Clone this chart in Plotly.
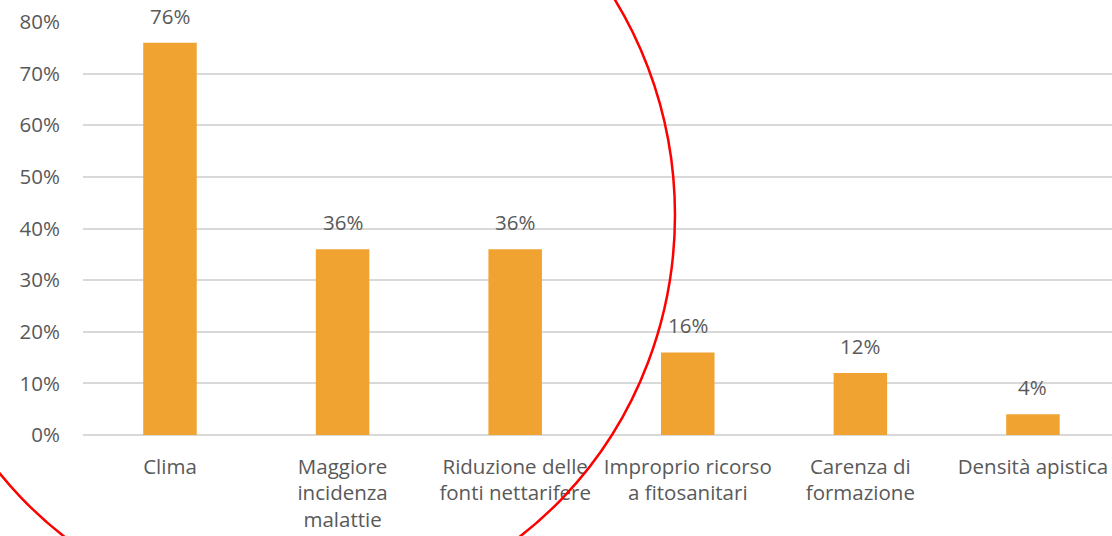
import plotly.graph_objects as go

categories = ["Clima", "Maggiore<br>incidenza<br>malattie", "Riduzione delle<br>fonti nettarifere",
              "Improprio ricorso<br>a fitosanitari", "Carenza di<br>formazione", "Densità apistica"]
values = [0.76, 0.36, 0.36, 0.16, 0.12, 0.04]
value_labels = ["76%", "36%", "36%", "16%", "12%", "4%"]
y_ticks = [0, 0.1, 0.2, 0.3, 0.4, 0.5, 0.6, 0.7, 0.8]

FONT = "Open Sans"
TXT = "#595959"
FS = 20.5

fig = go.Figure()
fig.add_trace(go.Bar(x=categories, y=values, width=0.31, marker_color="#F0A330",
                     marker_line_width=0, showlegend=False))

for c, v, t in zip(categories, values, value_labels):
    fig.add_annotation(x=c, y=v, xref="x", yref="y", text=t, showarrow=False,
                       yshift=27, yanchor="middle",
                       font=dict(family=FONT, size=FS, color=TXT))

fig.add_shape(type="circle", xref="paper", yref="paper",
              x0=-0.169, x1=0.5753, y0=-0.4358, y1=1.5012,
              line=dict(color="#FF0000", width=2.5), layer="above")

fig.update_layout(
    width=1112, height=536,
    margin=dict(l=83, r=0, t=22, b=101),
    plot_bgcolor="white", paper_bgcolor="white",
    bargap=0.69,
    font=dict(family=FONT, size=FS, color=TXT),
    xaxis=dict(type="category", range=[-0.504, 5.458], showgrid=False, zeroline=False,
               showline=False, ticks="", ticklabelstandoff=17,
               tickfont=dict(family=FONT, size=FS, color=TXT)),
    yaxis=dict(range=[0, 0.8], tickvals=y_ticks, tickformat=".0%", showgrid=True,
               gridcolor="#D9D9D9", gridwidth=2, zeroline=True, zerolinecolor="#D9D9D9",
               zerolinewidth=2, showline=False, ticks="", ticklabelstandoff=22,
               tickfont=dict(family=FONT, size=FS, color=TXT)),
)

fig.write_html("out.html", config={"displayModeBar": False},
               post_script="document.body.style.margin='0';document.body.style.overflow='hidden';")
